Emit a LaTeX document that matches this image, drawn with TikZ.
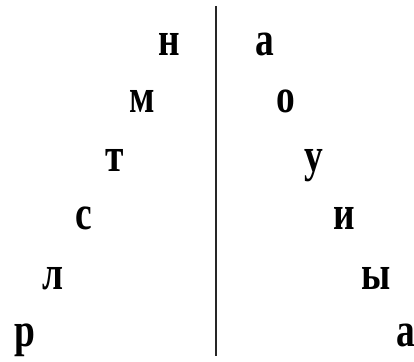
\documentclass[tikz,border=0pt]{standalone}
\usepackage{fontspec}
\setmainfont{Liberation Serif}[FakeStretch=0.78]
\usepackage{tikz}
\usetikzlibrary{positioning}
\tikzset{
  letter/.style={
    inner sep=0pt, anchor=base, font=\fontsize{48}{48}\selectfont\bfseries,
    text=black
  },
  divider/.style={line width=1.3pt, color=black!85}
}
\begin{document}
\begin{tikzpicture}[x=1pt,y=1pt]
  \useasboundingbox (0,0) rectangle (414,361);
  % consonants
  \node[letter] (cons_n) at (169,305) {н};
  \node[letter] (cons_m) at (142,248) {м};
  \node[letter] (cons_t) at (115,189) {т};
  \node[letter] (cons_s) at (84,131) {с};
  \node[letter] (cons_l) at (53,71) {л};
  \node[letter] (cons_r) at (25,15) {р};

  % vowels
  \node[letter] (vow_a) at (265,305) {а};
  \node[letter] (vow_o) at (286,248) {о};
  \node[letter] (vow_u) at (314,189) {у};
  \node[letter] (vow_i) at (344,131) {и};
  \node[letter] (vow_y) at (376,71) {ы};
  \node[letter] (vow_aa) at (406,15) {а};

  % divider
  \coordinate (div_top) at (216,355);
  \coordinate (div_bot) at (216,5);
  \draw[divider] (div_top) -- (div_bot);
\end{tikzpicture}
\end{document}
